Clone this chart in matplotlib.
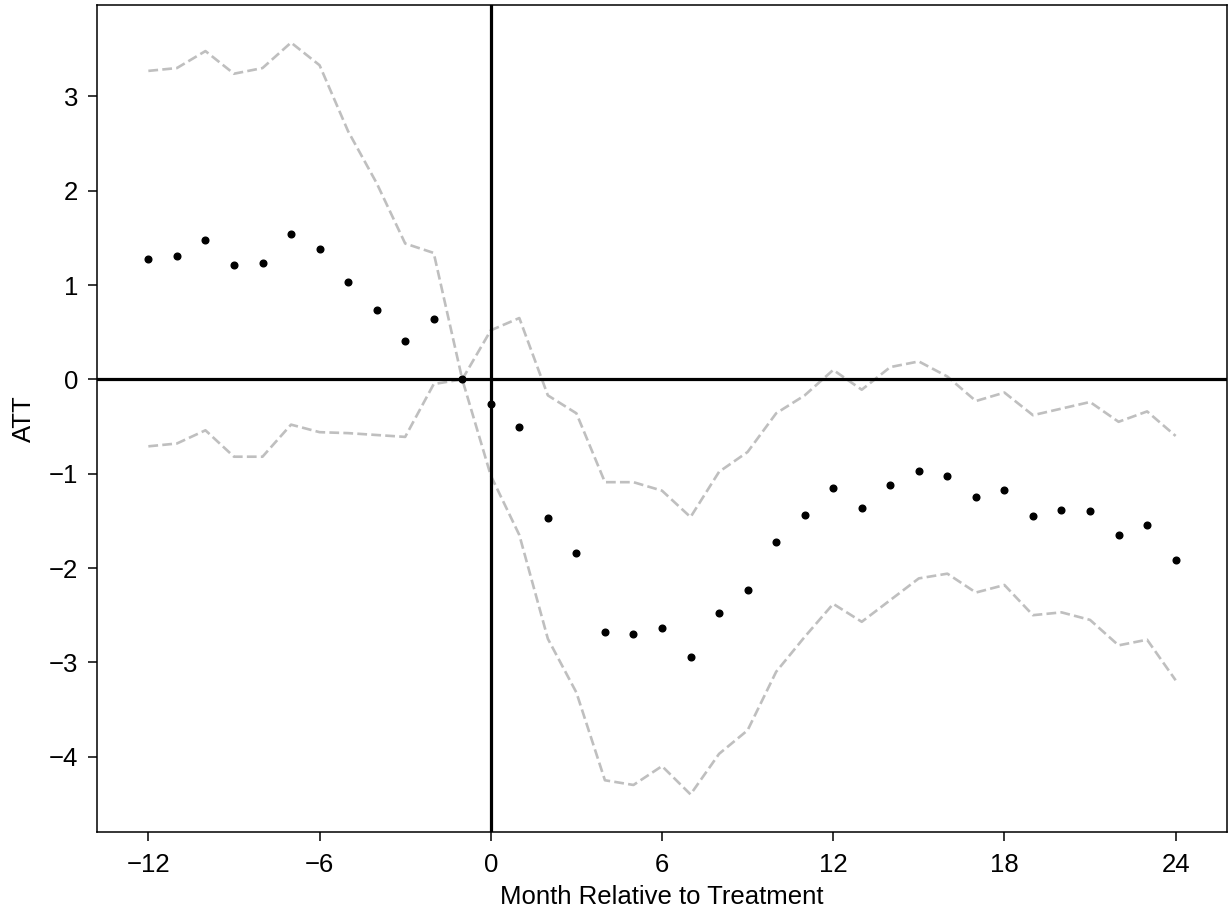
import matplotlib
matplotlib.use("Agg")
import matplotlib.pyplot as plt

months = list(range(-12, 25))
att = [1.28, 1.31, 1.48, 1.21, 1.23, 1.54, 1.38, 1.03, 0.73, 0.41, 0.64, 0.0,
       -0.26, -0.51, -1.47, -1.84, -2.68, -2.70, -2.64, -2.94, -2.48, -2.23,
       -1.72, -1.44, -1.15, -1.36, -1.12, -0.97, -1.02, -1.25, -1.17, -1.45,
       -1.39, -1.40, -1.65, -1.54, -1.92]
ci_upper = [3.27, 3.30, 3.48, 3.24, 3.30, 3.57, 3.33, 2.63, 2.08, 1.44, 1.34, 0.0,
            0.52, 0.65, -0.17, -0.36, -1.09, -1.09, -1.18, -1.46, -0.98, -0.77,
            -0.36, -0.17, 0.10, -0.11, 0.13, 0.19, 0.03, -0.23, -0.14, -0.38,
            -0.31, -0.24, -0.45, -0.34, -0.60]
ci_lower = [-0.71, -0.68, -0.54, -0.82, -0.82, -0.48, -0.56, -0.57, -0.59, -0.61, -0.05, 0.0,
            -1.02, -1.65, -2.75, -3.32, -4.25, -4.30, -4.10, -4.40, -3.97, -3.72,
            -3.10, -2.73, -2.38, -2.57, -2.34, -2.11, -2.06, -2.26, -2.18, -2.50,
            -2.47, -2.55, -2.82, -2.76, -3.19]
xticks = [-12, -6, 0, 6, 12, 18, 24]

plt.rcParams['font.family'] = ['Liberation Sans', 'DejaVu Sans']
fig = plt.figure(figsize=(12.29, 9.17), dpi=100)
ax = fig.add_axes([97/1229, 85/917, (1227-97)/1229, (832-5)/917])

ax.plot(months, ci_upper, linestyle='--', color='#bfbfbf', lw=1.9)
ax.plot(months, ci_lower, linestyle='--', color='#bfbfbf', lw=1.9)
ax.axhline(0, color='black', lw=2.3)
ax.axvline(0, color='black', lw=2.3)
ax.plot(months, att, 'o', color='black', markersize=4.8, linestyle='none')

ax.set_xticks(xticks)
ax.set_xlabel('Month Relative to Treatment', fontsize=18.5, labelpad=6)
ax.set_ylabel('ATT', fontsize=18.5, labelpad=9)
ax.tick_params(labelsize=18.5, length=6.5, width=1.1)
ax.tick_params(axis='x', pad=8.5)
ax.tick_params(axis='y', pad=7)
for s in ax.spines.values():
    s.set_linewidth(1.1)

fig.savefig('out.png', dpi=100)
